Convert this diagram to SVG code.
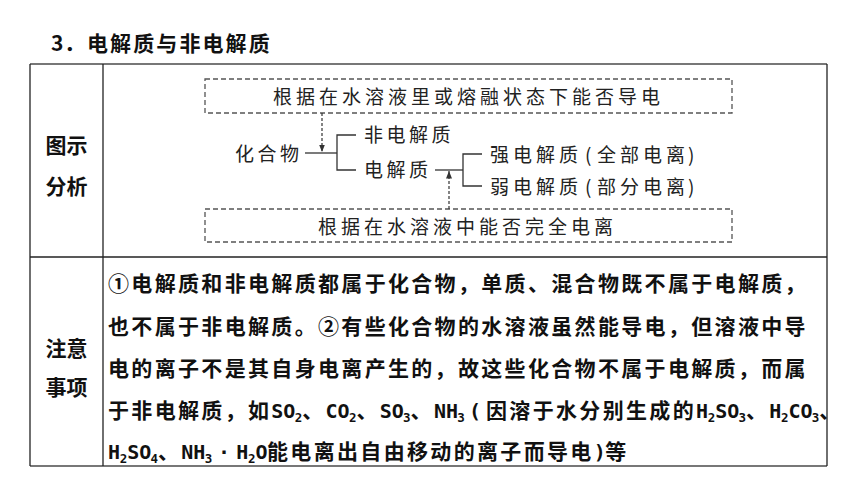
<svg xmlns="http://www.w3.org/2000/svg" width="860" height="484" viewBox="0 0 860 484">
<defs>
<style>
.t{font-family:"Noto Sans CJK SC","Noto Sans",sans-serif;font-weight:700;font-size:21px;fill:#111}
.b{font-family:"Noto Sans CJK SC","Noto Sans",sans-serif;font-weight:700;font-size:21px;fill:#111}
.body{letter-spacing:2.33px}
.lat{font-family:"DejaVu Sans Mono","Liberation Mono",monospace;font-size:20px;letter-spacing:0}
.sub{font-family:"DejaVu Sans Mono","Liberation Mono",monospace;font-size:12.5px;letter-spacing:0}
.dg{font-family:"Noto Sans CJK SC","Noto Sans",sans-serif;font-weight:400;font-size:19px;letter-spacing:4px;fill:#222}
.dbox{fill:none;stroke:#555;stroke-width:1.3;stroke-dasharray:5 3}
.ln{fill:none;stroke:#333;stroke-width:1.3}
.dash{fill:none;stroke:#333;stroke-width:1.2;stroke-dasharray:3 2}
.frame{stroke:#222;stroke-width:1.3;fill:none}
.hframe{stroke:#777;stroke-width:2;fill:none}
</style>
<marker id="ah" viewBox="0 0 10 8" refX="10" refY="4" markerWidth="7.5" markerHeight="6" orient="auto" markerUnits="userSpaceOnUse">
<path d="M0,0 L10,4 L0,8 z" fill="#333"/>
</marker>
</defs>
<rect width="860" height="484" fill="#fff"/>

<g id="title">
<text class="t" y="51"><tspan x="51">3</tspan><tspan x="64">．</tspan><tspan x="87" style="letter-spacing:2.1px">电解质与非电解质</tspan></text>
</g>

<g id="table">
<line class="hframe" x1="30" y1="64" x2="827" y2="64"/>
<line class="hframe" x1="30" y1="466" x2="827" y2="466"/>
<line class="frame" x1="30" y1="64" x2="30" y2="466"/>
<line class="frame" x1="827" y1="64" x2="827" y2="466"/>
<line class="frame" x1="103" y1="64" x2="103" y2="466"/>
<line class="frame" x1="30" y1="257" x2="827" y2="257"/>
</g>

<g id="label-analysis">
<text class="b" x="66.5" y="153" text-anchor="middle">图示</text>
<text class="b" x="66.5" y="194" text-anchor="middle">分析</text>
</g>

<g id="box-top">
<rect class="dbox" x="205" y="79" width="527" height="34"/>
<text class="dg" x="273" y="103.5">根据在水溶液里或熔融状态下能否导电</text>
</g>
<g id="box-bottom">
<rect class="dbox" x="205" y="209" width="527" height="33"/>
<text class="dg" x="318" y="234">根据在水溶液中能否完全电离</text>
</g>
<g id="node-compound">
<text class="dg" x="235" y="160.5" style="letter-spacing:3.5px">化合物</text>
</g>
<g id="node-nonelectrolyte">
<text class="dg" x="364" y="142" style="letter-spacing:3.5px">非电解质</text>
</g>
<g id="node-electrolyte">
<text class="dg" x="364" y="177" style="letter-spacing:3.5px">电解质</text>
</g>
<g id="node-strong">
<text class="dg" y="162"><tspan x="490">强电解质</tspan><tspan x="585">(</tspan><tspan x="597">全部电离</tspan><tspan x="688">)</tspan></text>
</g>
<g id="node-weak">
<text class="dg" y="193.5"><tspan x="490">弱电解质</tspan><tspan x="585">(</tspan><tspan x="597">部分电离</tspan><tspan x="688">)</tspan></text>
</g>

<g id="connectors">
<line class="ln" x1="305" y1="153" x2="337" y2="153"/>
<path class="ln" d="M356,135 H337 V170 H356"/>
<line class="ln" x1="435" y1="170" x2="463" y2="170"/>
<path class="ln" d="M482,154 H463 V186 H482"/>
<line class="dash" x1="322" y1="113" x2="322" y2="152" marker-end="url(#ah)"/>
<line class="dash" x1="449" y1="209" x2="449" y2="171" marker-end="url(#ah)"/>
</g>

<g id="label-notes">
<text class="b" x="66.5" y="355.5" text-anchor="middle">注意</text>
<text class="b" x="66.5" y="395" text-anchor="middle">事项</text>
</g>

<g id="notes">
<text class="b body" x="108" y="291">①电解质和非电解质都属于化合物，单质、混合物既不属于电解质，</text>
<text class="b body" x="108" y="334">也不属于非电解质。②有些化合物的水溶液虽然能导电，但溶液中导</text>
<text class="b body" x="108" y="376">电的离子不是其自身电离产生的，故这些化合物不属于电解质，而属</text>
<text class="b body" y="418"><tspan x="108">于非电解质，如</tspan><tspan class="lat" x="271.3">SO</tspan><tspan class="sub" x="294.7" y="422">2</tspan><tspan x="302.2" y="418">、</tspan><tspan class="lat" x="325.5">CO</tspan><tspan class="sub" x="348.9" y="422">2</tspan><tspan x="356.4" y="418">、</tspan><tspan class="lat" x="379.7">SO</tspan><tspan class="sub" x="403" y="422">3</tspan><tspan x="410.5" y="418">、</tspan><tspan class="lat" x="433.9">NH</tspan><tspan class="sub" x="457.2" y="422">3</tspan><tspan class="lat" x="469" y="418">(</tspan><tspan x="486">因溶于水分别生成的</tspan><tspan class="lat" x="696">H</tspan><tspan class="sub" x="707.7" y="422">2</tspan><tspan class="lat" x="715.2" y="418">SO</tspan><tspan class="sub" x="738.5" y="422">3</tspan><tspan x="746" y="418">、</tspan><tspan class="lat" x="769.3">H</tspan><tspan class="sub" x="781" y="422">2</tspan><tspan class="lat" x="788.5" y="418">CO</tspan><tspan class="sub" x="811.8" y="422">3</tspan><tspan x="819.3" y="418">、</tspan></text>
<text class="b body" y="459"><tspan class="lat" x="108">H</tspan><tspan class="sub" x="119.7" y="463">2</tspan><tspan class="lat" x="127.2" y="459">SO</tspan><tspan class="sub" x="150.5" y="463">4</tspan><tspan x="158" y="459">、</tspan><tspan class="lat" x="181.3">NH</tspan><tspan class="sub" x="204.7" y="463">3</tspan><tspan class="lat" x="218" y="459">·</tspan><tspan class="lat" x="236.2">H</tspan><tspan class="sub" x="247.9" y="463">2</tspan><tspan class="lat" x="255.4" y="459">O</tspan><tspan x="267">能电离出自由移动的离子而导电</tspan><tspan class="lat" x="593.7">)</tspan><tspan x="605.3">等</tspan></text>
</g>
</svg>
